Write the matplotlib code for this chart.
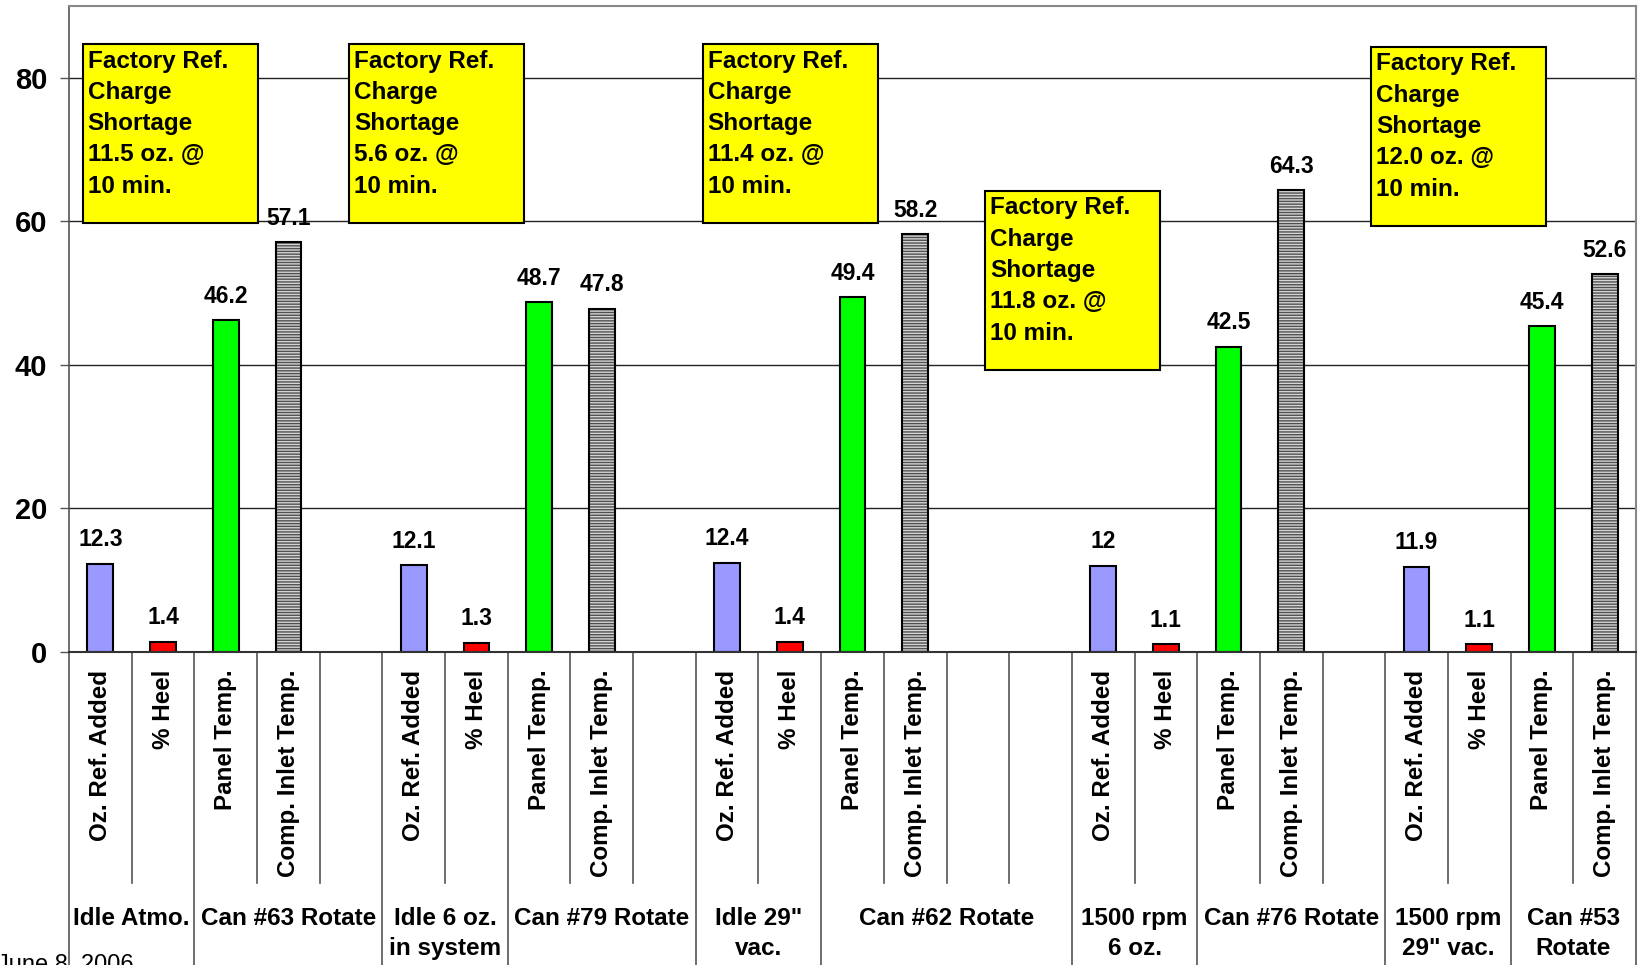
import numpy as np
import matplotlib.pyplot as plt
from matplotlib.patches import Rectangle

plt.rcParams['font.family'] = ['Liberation Sans', 'DejaVu Sans']
plt.rcParams['font.weight'] = 'bold'
plt.rcParams['hatch.linewidth'] = 1.0

# data
measures = ["Oz. Ref. Added", "% Heel", "Panel Temp.", "Comp. Inlet Temp."]
conditions = ["Idle Atmo.", "Idle 6 oz.\nin system", "Idle 29\"\nvac.",
              "1500 rpm\n6 oz.", "1500 rpm\n29\" vac."]
cans = ["Can #63 Rotate", "Can #79 Rotate", "Can #62 Rotate",
        "Can #76 Rotate", "Can #53\nRotate"]
oz_added = [12.3, 12.1, 12.4, 12, 11.9]
heel = [1.4, 1.3, 1.4, 1.1, 1.1]
panel_temp = [46.2, 48.7, 49.4, 42.5, 45.4]
inlet_temp = [57.1, 47.8, 58.2, 64.3, 52.6]
shortage_oz = ["11.5", "5.6", "11.4", "11.8", "12.0"]
shortage_min = [10, 10, 10, 10, 10]

# layout
gaps = [1, 1, 2, 1, 0]  # empty slots after each group
box_pos = [(-0.28, 84.7), (3.97, 84.7), (9.61, 84.7), (14.12, 64.25), (20.28, 84.3)]
box_w, box_h = 2.79, 25
colors = ['#9999FF', '#FF0000', '#00FF00']

series = [oz_added, heel, panel_temp, inlet_temp]

fig = plt.figure(figsize=(16.43, 9.65), dpi=100)
ax = fig.add_axes([69 / 1643, 1 - 652 / 965, (1636 - 69) / 1643, (652 - 6) / 965])

starts = []
s = 0
for g in gaps:
    starts.append(s)
    s += 4 + g
n_slots = s
starts = np.array(starts)

bw = 0.41
for k in range(4):
    xs = starts + k
    vals = series[k]
    if k < 3:
        ax.bar(xs, vals, bw, color=colors[k], edgecolor='black', linewidth=1.5, zorder=2)
    else:
        # hatched bar: stripes first, outline on top
        ax.bar(xs, vals, bw, color='#d4d4d4', edgecolor='#505050', hatch='------',
               linewidth=0, zorder=2)
        ax.bar(xs, vals, bw, fill=False, edgecolor='black', linewidth=1.5, zorder=2)
    for x, v in zip(xs, vals):
        ax.annotate(f"{v:g}", (x, v), xytext=(0, 9), textcoords='offset points',
                    ha='center', va='bottom', fontsize=16.5, fontweight='bold')

ax.set_xlim(-0.5, n_slots - 0.5)
ax.set_ylim(0, 90)
ax.set_yticks([0, 20, 40, 60, 80])
ax.tick_params(axis='y', labelsize=21, length=6.5, width=1, color='#555555', pad=9)
for t in ax.get_yticklabels():
    t.set_fontweight('bold')
ax.set_xticks([])
ax.yaxis.grid(True, color='#222222', linewidth=1)
ax.set_axisbelow(True)
for side in ['top', 'right']:
    ax.spines[side].set_color('#888888')
    ax.spines[side].set_linewidth(1.5)
ax.spines['left'].set_color('#555555')
ax.spines['left'].set_linewidth(1.2)
ax.spines['bottom'].set_color('#333333')
ax.spines['bottom'].set_linewidth(1.5)

# slot labels and separators
tr = ax.get_xaxis_transform()
slot_labels = []
for g in gaps:
    slot_labels += measures + [""] * g
for i, lab in enumerate(slot_labels):
    if lab:
        ax.text(i, -0.0275, lab, rotation=90, ha='center', va='top',
                fontsize=17.4, fontweight='bold', transform=tr)

major = set()
for st, g in zip(starts, gaps):
    major.update([st - 0.5, st + 1.5, st + 3.5 + g])
for e in np.arange(-0.5, n_slots, 1.0):
    y0 = -0.5 if e in major else -0.3576
    ax.plot([e, e], [0, y0], color='#555555', linewidth=1.2, transform=tr, clip_on=False)

for st, g, c, cn in zip(starts, gaps, conditions, cans):
    ax.text(st + 0.5, -0.395, c, ha='center', va='top', fontsize=17.5,
            fontweight='bold', transform=tr, linespacing=1.4)
    ax.text(st + 2.5 + g / 2, -0.395, cn, ha='center', va='top', fontsize=17.5,
            fontweight='bold', transform=tr, linespacing=1.4)

# annotation boxes
for (bx, by), oz, mn in zip(box_pos, shortage_oz, shortage_min):
    ax.add_patch(Rectangle((bx, by - box_h), box_w, box_h, facecolor='#FFFF00',
                           edgecolor='black', linewidth=1.5, zorder=3))
    ax.annotate(f"Factory Ref.\nCharge\nShortage\n{oz} oz. @\n{mn} min.", (bx, by),
                xytext=(3.5, -4), textcoords='offset points', ha='left', va='top',
                fontsize=17.5, fontweight='bold', linespacing=1.46, zorder=4)

fig.text(-3 / 1643, 1 - 954.5 / 965, "June 8, 2006", ha='left', va='top',
         fontsize=17, fontweight='normal')

fig.savefig('out.png', dpi=100)
